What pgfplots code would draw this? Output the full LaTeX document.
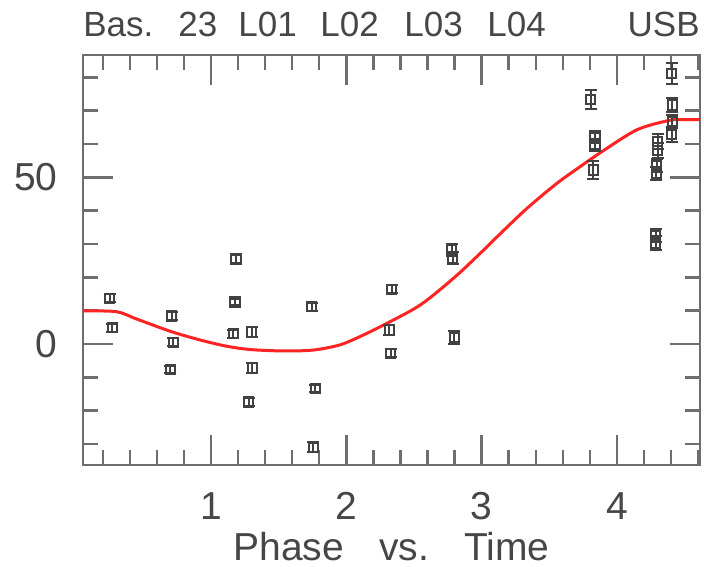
\documentclass[border=0pt]{standalone}
\usepackage{fontspec}
\setmainfont{Liberation Sans}
\usepackage{pgfplots}
\usepackage{pgfplotstable}
\pgfplotsset{compat=1.18}
\definecolor{axgray}{RGB}{110,110,110}
\definecolor{txtgray}{RGB}{70,70,70}
\definecolor{ptgray}{RGB}{65,65,65}
\definecolor{fitred}{RGB}{255,35,35}

% phase measurements: time, phase, error
\pgfplotstableread{
x y e
0.250 13.7 1.2
0.270 4.9 1.2
0.710 8.4 1.2
0.720 0.5 1.2
0.700 -7.6 1.0
1.185 25.5 1.2
1.177 12.6 1.0
1.165 3.1 1.2
1.300 3.6 1.5
1.305 -7.2 1.5
1.280 -17.4 1.2
1.744 11.2 1.2
1.770 -13.3 1.0
1.756 -31.0 1.5
2.335 16.4 1.2
2.318 4.2 1.5
2.328 -2.8 1.2
2.779 28.3 1.8
2.785 25.7 1.8
2.798 2.0 2.0
3.806 73.4 2.8
3.838 62.0 1.8
3.838 59.8 1.8
3.826 52.2 2.8
4.405 81.2 3.2
4.410 71.7 2.0
4.410 66.7 2.0
4.405 62.8 2.2
4.300 60.8 2.2
4.300 58.0 2.2
4.295 53.5 2.0
4.290 51.2 2.0
4.287 32.5 2.0
4.287 30.3 2.0
}\phasedata

% fitted phase curve
\pgfplotstableread{
x y
0.054 9.9
0.30 9.7
0.45 7.5
0.70 3.8
0.92 1.2
1.12 -0.7
1.30 -1.7
1.55 -2.1
1.76 -1.8
1.95 -0.3
2.10 2.2
2.30 6.2
2.55 11.8
2.80 20.0
3.00 27.6
3.10 31.6
3.33 40.5
3.55 48.0
3.70 52.4
3.90 58.0
4.15 64.3
4.39 67.1
4.50 67.3
4.614 67.3
}\fitdata

\begin{document}
\begin{tikzpicture}[x=1pt,y=1pt]
\path[use as bounding box] (0,0) rectangle (352,283);
\begin{axis}[
  at={(41.5pt,50.5pt)}, anchor=south west,
  scale only axis, width=308.5pt, height=205pt,
  xmin=0.054, xmax=4.614, ymin=-36.3, ymax=86.7,
  xtick={1,2,3,4}, ytick={0,50},
  minor xtick={0.2,0.4,0.6,0.8,1.2,1.4,1.6,1.8,2.2,2.4,2.6,2.8,3.2,3.4,3.6,3.8,4.2,4.4,4.6},
  minor ytick={-30,-20,-10,10,20,30,40,60,70,80},
  tick align=inside,
  major tick length=15pt, minor tick length=7.5pt,
  axis line style={axgray, line width=1.3pt},
  every tick/.style={axgray, line width=1.2pt},
  /pgf/number format/assume math mode=true,
  tick label style={font=\fontsize{19.5}{20}\selectfont, text=txtgray},
  xticklabel style={anchor=north, inner sep=0pt, yshift=-13.5pt},
  yticklabel style={anchor=east, inner sep=0pt, xshift=-12.5pt},
  clip=false,
]
\addplot[fitred, line width=1.5pt, smooth] table[x=x,y=y]{\fitdata};
\addplot[only marks, mark=square, mark size=2.3pt,
  mark options={ptgray, line width=1pt},
  error bars/.cd, y dir=both, y explicit,
  error bar style={ptgray, line width=1pt},
  error mark options={ptgray, line width=1pt, mark size=3pt, rotate=90}]
  table[x=x,y=y,y error=e]{\phasedata};
\end{axis}
% header line
\begin{scope}[every node/.style={inner sep=0pt, text=txtgray, font=\fontsize{17.5}{18}\selectfont}]
\node[anchor=base west] at (41.5,264.5) {Bas.};
\node[anchor=base west] at (89,264.5) {23};
\node[anchor=base west] at (119,264.5) {L01};
\node[anchor=base west] at (160,264.5) {L02};
\node[anchor=base west] at (202,264.5) {L03};
\node[anchor=base west] at (243.5,264.5) {L04};
\node[anchor=base east] at (350,264.5) {USB};
\end{scope}
\node[anchor=base, inner sep=0pt, text=txtgray, font=\fontsize{19.5}{20}\selectfont]
  at (195.75,3) {Phase\hspace{0.9em}vs.\hspace{0.9em}Time};
\end{tikzpicture}
\end{document}
